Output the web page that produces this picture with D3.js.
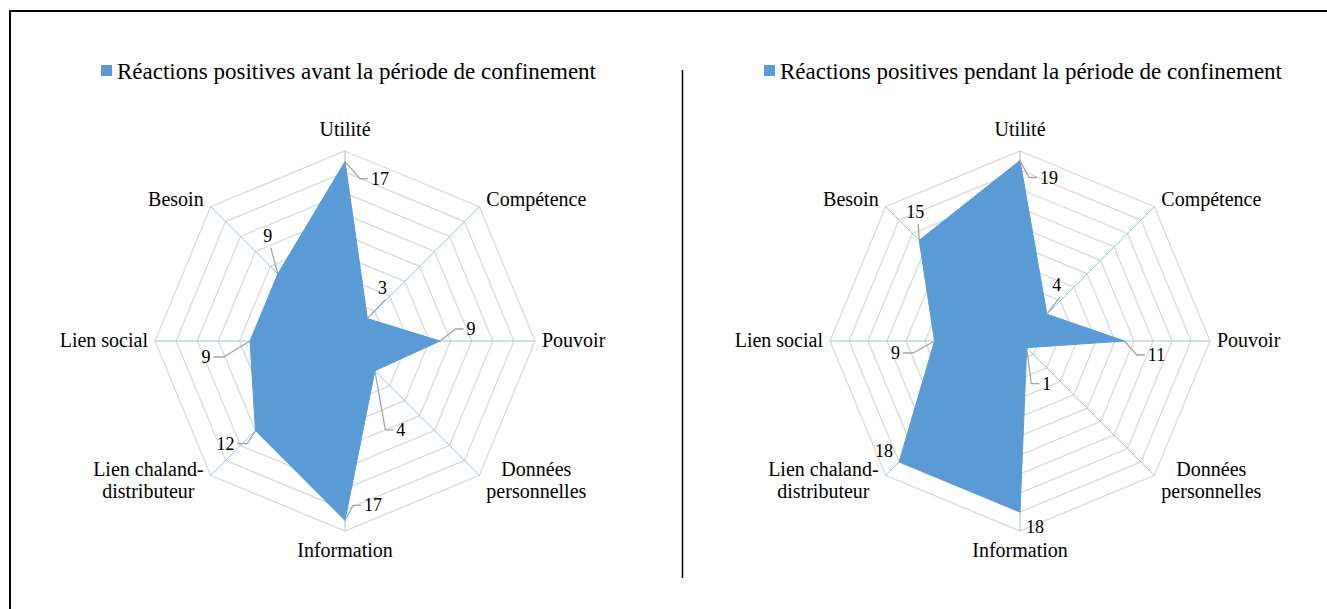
<!DOCTYPE html>
<html>
<head>
<meta charset="utf-8">
<script src="https://cdn.jsdelivr.net/npm/d3@7"></script>
</head>
<body style="margin:0">
<svg id="chart" width="1327" height="609" font-family="Liberation Serif"></svg>
<script>
// categories, clockwise from the top
var categories = ['Utilité', 'Compétence', 'Pouvoir', 'Données personnelles',
  'Information', 'Lien chaland-distributeur', 'Lien social', 'Besoin'];
// two-line versions of the long labels
var categoryLines = [['Utilité'], ['Compétence'], ['Pouvoir'], ['Données', 'personnelles'],
  ['Information'], ['Lien chaland-', 'distributeur'], ['Lien social'], ['Besoin']];

var avantValues = [17, 3, 9, 4, 17, 12, 9, 9];
var pendantValues = [19, 4, 11, 1, 18, 18, 9, 15];

var avantTicks = [2, 4, 6, 8, 10, 12, 14, 16, 18];
var pendantTicks = [2, 4, 6, 8, 10, 12, 14, 16, 18, 20];

var avantName = 'Réactions positives avant la période de confinement';
var pendantName = 'Réactions positives pendant la période de confinement';

// data label placement (offset from the point, side of the leader line)
var avantLabelPos = [[35, 17, 'r'], [15, -31, 't'], [31, -12, 'r'], [26, 59, 'r'],
  [28, -15, 'r'], [-30, 13, 'l'], [-44, 16, 'l'], [-10, -38, 't']];
var pendantLabelPos = [[29, 17, 'r'], [10, -29, 't'], [32, 14, 'r'], [20, 36, 'r'],
  [15, 15, 'n'], [-15, -11, 'n'], [-39, 12, 'l'], [-4, -28, 't']];

var svg = d3.select('#chart');
var fillColor = '#5B9BD5';
var serif = 'Liberation Serif';

// outer frame and divider
svg.append('rect')
  .attr('x', 10).attr('y', 11)
  .attr('width', 1340).attr('height', 620)
  .attr('fill', 'none').attr('stroke', '#000').attr('stroke-width', 2);
svg.append('line')
  .attr('x1', 682.5).attr('x2', 682.5).attr('y1', 70).attr('y2', 578)
  .attr('stroke', '#000').attr('stroke-width', 1.5);

function addText(x, y, size, txt){
  return svg.append('text')
    .attr('x', x).attr('y', y)
    .attr('font-family', serif)
    .style('font-family', serif)
    .style('font-size', size + 'px')
    .text(txt);
}

function drawRadar(opts){
  var cx = opts.cx, cy = opts.cy, R = 190;
  var n = categories.length;
  var angle = d3.scaleLinear().domain([0, n]).range([0, 2 * Math.PI]);
  var r = d3.scaleLinear().domain([0, opts.max]).range([0, R]);

  function pt(i, v){
    var a = angle(i);
    return [cx + r(v) * Math.sin(a), cy - r(v) * Math.cos(a)];
  }

  // grid rings
  opts.ticks.forEach(function(t){
    svg.append('polygon')
      .attr('points', d3.range(n).map(function(i){ return pt(i, t).join(','); }).join(' '))
      .attr('fill', 'none')
      .attr('stroke', '#D9D9D9')
      .attr('stroke-width', 1.3);
  });

  // spokes
  d3.range(n).forEach(function(i){
    var e = pt(i, opts.max);
    svg.append('line')
      .attr('x1', cx).attr('y1', cy)
      .attr('x2', e[0]).attr('y2', e[1])
      .attr('stroke', '#9DC3E6')
      .attr('stroke-width', 1);
  });

  // series area
  svg.append('polygon')
    .attr('points', opts.values.map(function(v, i){ return pt(i, v).join(','); }).join(' '))
    .attr('fill', fillColor)
    .attr('stroke', fillColor)
    .attr('stroke-width', 1);

  // category labels, one text per line
  categoryLines.forEach(function(lines, i){
    var v = pt(i, opts.max);
    var sx = Math.round(Math.sin(angle(i)) * 100) / 100;
    var texts = lines.map(function(l){ return addText(0, 0, 20, l).attr('text-anchor', 'middle'); });
    var w = d3.max(texts, function(t){ return t.node().getComputedTextLength(); });
    var x = v[0], y;
    if (sx > 0.1) x = v[0] + 7 + w / 2;
    if (sx < -0.1) x = v[0] - 7 - w / 2;
    // y is the vertical centre of the block
    if (i === 0) y = v[1] - 21;
    else if (i === 4) y = v[1] + 20;
    else if (i === 2 || i === 6) y = v[1];
    else if (i === 1 || i === 7) y = v[1] - 7;
    else y = v[1] + 6;
    var top = y - (lines.length - 1) * 11 + 6;
    texts.forEach(function(t, k){ t.attr('x', x).attr('y', top + k * 22); });
  });

  // data labels with leader lines
  opts.values.forEach(function(v, i){
    var p = pt(i, v);
    var pos = opts.labelPos[i];
    var lx = p[0] + pos[0], ly = p[1] + pos[1];
    var t = addText(lx, ly + 6, 18, v).attr('text-anchor', 'middle');
    var w = t.node().getComputedTextLength();
    var path = null;
    if (pos[2] === 'r'){
      var ax = lx - w / 2 - 3;
      path = [p, [ax - 8, ly], [ax, ly]];
    } else if (pos[2] === 'l'){
      var bx = lx + w / 2 + 3;
      path = [p, [bx + 10, ly], [bx, ly]];
    } else if (pos[2] === 't'){
      path = [p, [lx + 3, ly + 12]];
    }
    if (path){
      svg.append('path')
        .attr('d', d3.line()(path))
        .attr('fill', 'none')
        .attr('stroke', '#A6A6A6')
        .attr('stroke-width', 1.3);
    }
  });

  // legend
  svg.append('rect')
    .attr('x', opts.legendX).attr('y', 65)
    .attr('width', 11).attr('height', 11)
    .attr('fill', fillColor);
  addText(opts.legendX + 16, 79, 23, opts.name);
}

drawRadar({cx: 345, cy: 341, max: 18, ticks: avantTicks, values: avantValues,
  labelPos: avantLabelPos, name: avantName, legendX: 101});
drawRadar({cx: 1020, cy: 341, max: 20, ticks: pendantTicks, values: pendantValues,
  labelPos: pendantLabelPos, name: pendantName, legendX: 764});
</script>
</body>
</html>
